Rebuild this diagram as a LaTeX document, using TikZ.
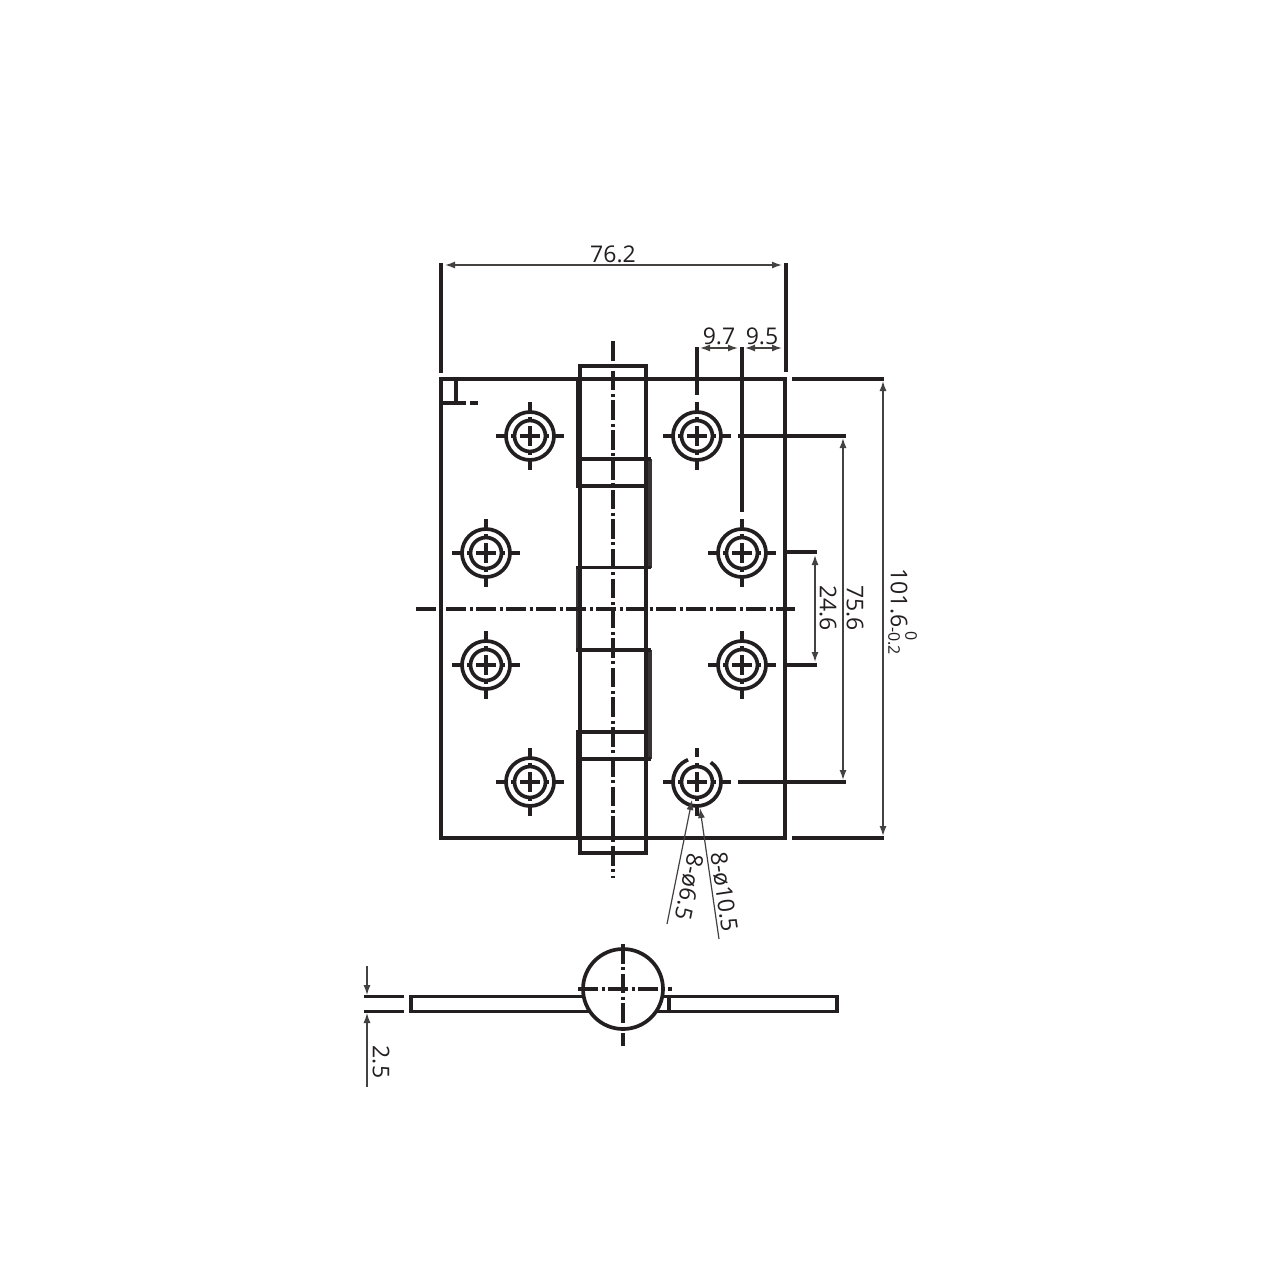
\documentclass[tikz,border=0pt]{standalone}
\usepackage{fontspec}
\setmainfont{Open Sans}
\usetikzlibrary{arrows.meta}
\definecolor{ink}{HTML}{231F20}
\tikzset{
  x=0.5pt,y=-0.5pt,
  heavy/.style={draw=ink,line width=1.85pt},
  thickbar/.style={draw=ink,line width=2.5pt},
  softbar/.style={draw=ink!90,line width=2.5pt},
  crossl/.style={draw=ink,line width=1.6pt},
  dimline/.style={draw=ink!85,line width=0.7pt,{Latex[length=5pt,width=3.5pt]}-{Latex[length=5pt,width=3.5pt]}},
  leaderl/.style={draw=ink!85,line width=0.6pt,-{Latex[length=5pt,width=3.5pt]}},
  centerv/.style={draw=ink,line width=1.9pt,dash pattern=on 9.85pt off 1.75pt on 1.5pt off 1.75pt},
  centerh/.style={draw=ink,line width=1.9pt,dash pattern=on 10pt off 1.75pt on 1.5pt off 1.75pt},
  dimtext/.style={text=ink,font=\fontsize{11.5}{12}\selectfont,inner sep=0pt},
  smalltext/.style={text=ink,font=\fontsize{8}{9}\selectfont,inner sep=0pt},
  pics/holecore/.style={code={
    \draw[heavy] (0,0) circle[radius=15.5];
    \draw[crossl] (-10,0) -- (10,0) (0,-10) -- (0,10);
    \draw[heavy] (-34,0) -- (-25,0) (25,0) -- (34,0) (0,-34) -- (0,-25) (0,25) -- (0,34);
    \draw[heavy] (-19,0) -- (-14,0) (14,0) -- (19,0) (0,-19) -- (0,-14) (0,14) -- (0,19);
  }},
  pics/hole/.style={code={
    \pic {holecore};
    \draw[heavy] (0,0) circle[radius=24];
  }}
}
\begin{document}
\begin{tikzpicture}
\useasboundingbox[fill=white] (0,0) rectangle (1280,1280);
% plate
\draw[heavy] (441,379) rectangle (785,838);
% barrel bars
\draw[thickbar] (578,379) -- (578,486);
\draw[softbar] (649,459) -- (649,568);
\draw[softbar] (578,567) -- (578,650);
\draw[softbar] (649,650) -- (649,759);
\draw[thickbar] (578,732) -- (578,838);
% barrel
\draw[heavy] (580,366) rectangle (646,853);
\draw[heavy] (580,459) -- (651,459);
\draw[heavy] (576,486) -- (646,486);
\draw[heavy] (576,567.5) -- (651,567.5);
\draw[heavy] (576,650) -- (651,650);
\draw[heavy] (576,732) -- (646,732);
\draw[heavy] (580,759) -- (651,759);
% corner mark
\draw[heavy] (456,379) -- (456,403);
\draw[heavy] (441,403) -- (466,403);
\draw[heavy] (470,403) -- (478,403);
% centre lines
\draw[centerv] (613,341) -- (613,878);
\draw[centerh] (416,609) -- (795,609);
% holes
\pic at (530,436) {hole};
\pic at (697,436) {hole};
\pic at (486,553) {hole};
\pic at (742,553) {hole};
\pic at (486,665) {hole};
\pic at (742,665) {hole};
\pic at (530,782) {hole};
\pic at (697,782) {holecore};
\draw[heavy] (697,782) ++(-55:24) arc[start angle=-55,end angle=248,radius=24];
% named dimension points
\coordinate (wL) at (445,265);
\coordinate (wR) at (782,265);
\coordinate (aL) at (700,348);
\coordinate (aM) at (738,348);
\coordinate (aN) at (745,348);
\coordinate (aR) at (782,348);
\coordinate (hT) at (883,381);
\coordinate (hB) at (883,836);
\coordinate (mT) at (843,438);
\coordinate (mB) at (843,780);
\coordinate (sT) at (815,555);
\coordinate (sB) at (815,662);
% extension lines
\draw[heavy] (441,263) -- (441,373);
\draw[heavy] (786,263) -- (786,372);
\draw[heavy] (697,347) -- (697,395);
\draw[heavy] (742,347) -- (742,512);
\draw[heavy] (792,379) -- (884,379);
\draw[heavy] (792,838) -- (884,838);
\draw[heavy] (738,436) -- (846,436);
\draw[heavy] (738,782) -- (846,782);
\draw[heavy] (785,552) -- (817,552);
\draw[heavy] (785,665) -- (817,665);
% dimensions
\draw[dimline] (wL) -- (wR);
\draw[dimline] (aL) -- (aM);
\draw[dimline] (aN) -- (aR);
\draw[dimline] (hT) -- (hB);
\draw[dimline] (mT) -- (mB);
\draw[dimline] (sT) -- (sB);
\node[dimtext] (t762) at (613,254) {76.2};
\node[dimtext] (t97) at (719,336) {9.7};
\node[dimtext] (t95) at (762,336) {9.5};
\node[dimtext,rotate=-90] (t246) at (828,608) {24.6};
\node[dimtext,rotate=-90] (t756) at (855,608) {75.6};
\node[dimtext,rotate=-90] (t1016) at (899,598) {101.6};
\node[smalltext,rotate=-90] (tup) at (911,636) {0};
\node[smalltext,rotate=-90] (tlow) at (894,641) {-0.2};
% leaders
\coordinate (l1a) at (667,924);
\coordinate (l1b) at (692,800);
\coordinate (l2a) at (719,939);
\coordinate (l2b) at (700,808);
\draw[leaderl] (l1a) -- (l1b);
\draw[leaderl] (l2a) -- (l2b);
\node[dimtext,rotate=-101.4] (t65) at (689,887) {8-ø6.5};
\node[dimtext,rotate=-81.7] (t105) at (724,892) {8-ø10.5};
% end view
\draw[heavy] (623,989) circle[radius=40];
\draw[heavy] (585,996.5) -- (411,996.5) -- (411,1011.5) -- (589,1011.5);
\draw[heavy] (662,996.5) -- (837,996.5) -- (837,1011.5) -- (656,1011.5);
\draw[heavy] (669,996.5) -- (669,1011.5);
\draw[centerv] (623,944) -- (623,1046);
\draw[centerh] (578,989) -- (672,989);
\draw[heavy] (364,996.5) -- (404,996.5);
\draw[heavy] (364,1011.5) -- (404,1011.5);
\coordinate (bT) at (367,966);
\coordinate (bTe) at (367,995);
\coordinate (bB) at (367,1087);
\coordinate (bBe) at (367,1013);
\draw[leaderl] (bT) -- (bTe);
\draw[leaderl] (bB) -- (bBe);
\node[dimtext,rotate=-90] (t25) at (381,1062) {2.5};
\end{tikzpicture}
\end{document}
